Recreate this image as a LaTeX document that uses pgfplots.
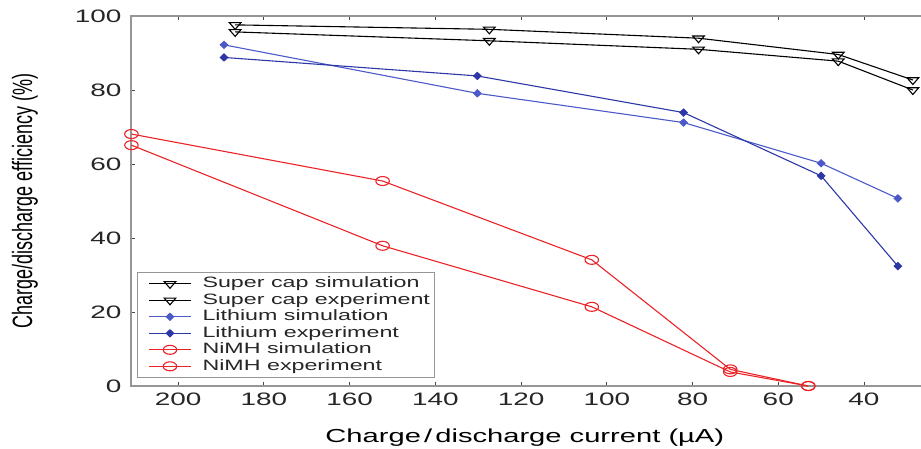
\documentclass[border=0pt]{standalone}
\usepackage{pgfplots}
\pgfplotsset{compat=1.18}
\usepackage{fontspec}
\setmainfont{Liberation Sans}[FakeStretch=1.55]
\newfontfamily\plainfont{Liberation Sans}
\definecolor{axgray}{RGB}{150,150,150}
\definecolor{myred}{RGB}{235,35,40}
\definecolor{blueA}{RGB}{45,55,165}
\definecolor{blueB}{RGB}{75,90,200}
\begin{document}
\begin{tikzpicture}
\begin{axis}[
  name=ax, at={(0,0)}, anchor=south west,
  scale only axis, width=794pt, height=370pt,
  x dir=reverse,
  xmin=25.77, xmax=211, ymin=0, ymax=100,
  xtick={40,60,...,200}, ytick={0,20,...,100},
  ytick pos=left,
  axis line style={draw=axgray, line width=1.2pt},
  major tick style={draw=black!70, line width=0.8pt},
  major tick length=4pt,
  clip=false,
  /pgf/number format/assume math mode=true,
  tick label style={font=\fontsize{18}{18}\selectfont, text=black!85},
  xticklabel style={yshift=-3pt},
  yticklabel style={xshift=-6pt},
  xlabel={Charge\,/\,discharge current (µA)},
  xlabel style={font=\fontsize{18.8}{20}\selectfont, at={(axis description cs:0.496,0)}, anchor=base, yshift=-56pt},
  ylabel={\scalebox{1}[1.55]{\plainfont\fontsize{18}{20}\selectfont Charge/discharge efficiency (\%)}},
  ylabel style={at={(axis description cs:-0.1335,0.5)}, anchor=center},
  legend cell align=left,
  legend style={at={(axis description cs:0,0)}, anchor=south west, xshift=6pt, yshift=8pt,
    draw=axgray, line width=0.9pt, fill=white,
    font=\fontsize{15}{16.5}\selectfont, text=black!85,
    nodes={inner sep=1pt, text height=11pt, text depth=3.5pt},
    inner xsep=3pt, inner ysep=3pt},
  legend image code/.code={\draw[mark repeat=2,mark phase=2] plot coordinates {(8pt,0pt) (29pt,0pt) (50pt,0pt)};\path (0pt,0pt) (60pt,0pt);},
  every axis plot/.append style={line width=1.1pt},
]
% Super cap simulation
\addplot[black, mark=triangle, mark size=4.5pt, mark options={rotate=180, xscale=1.5, solid}] coordinates {
 (186.7,97.6) (127.4,96.4) (78.6,94.0) (46.0,89.6) (28.6,82.7)};
\addlegendentry{Super cap simulation}
% Super cap experiment
\addplot[black, mark=triangle, mark size=4.5pt, mark options={rotate=180, xscale=1.5, solid}] coordinates {
 (186.7,95.7) (127.4,93.3) (78.6,91.0) (46.0,87.8) (28.6,80.0)};
\addlegendentry{Super cap experiment}
% Lithium simulation
\addplot[blueB, mark=diamond*, mark size=3.5pt, mark options={xscale=1.4}] coordinates {
 (189.3,92.2) (130.2,79.1) (82.1,71.2) (50.0,60.2) (32.1,50.7)};
\addlegendentry{Lithium simulation}
% Lithium experiment
\addplot[blueA, mark=diamond*, mark size=3.5pt, mark options={xscale=1.4}] coordinates {
 (189.3,88.8) (130.2,83.8) (82.1,73.9) (50.0,56.8) (32.1,32.4)};
\addlegendentry{Lithium experiment}
% NiMH simulation
\addplot[myred, mark=o, mark size=4.5pt, mark options={xscale=1.5}] coordinates {
 (210.9,68.1) (152.3,55.4) (103.5,34.1) (71.2,4.5) (53.0,0.0)};
\addlegendentry{NiMH simulation}
% NiMH experiment
\addplot[myred, mark=o, mark size=4.5pt, mark options={xscale=1.5}] coordinates {
 (210.9,65.1) (152.3,37.9) (103.5,21.4) (71.2,3.8) (53.0,0.0)};
\addlegendentry{NiMH experiment}
\end{axis}
\pgfresetboundingbox
\path[use as bounding box] (-131pt,-62pt) rectangle (790pt,386pt);
\end{tikzpicture}
\end{document}
